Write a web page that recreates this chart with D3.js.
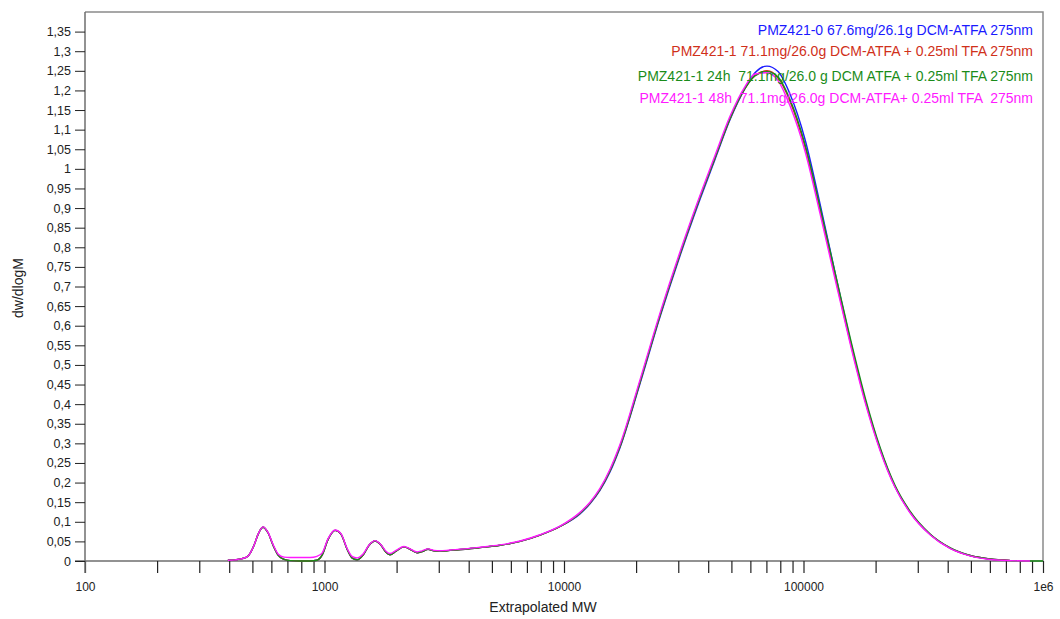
<!DOCTYPE html>
<html><head><meta charset="utf-8">
<script src="https://cdn.jsdelivr.net/npm/d3@7"></script>
<style>body{margin:0;background:#fff}svg{display:block}text{font-family:"Liberation Sans",Arial,sans-serif;white-space:pre}</style>
</head><body><svg id="c" width="1060" height="619"></svg>
<script>
// ---- data ----
const MW = [395,423,453,480,508,528,553,581,610,640,678,718,790,870,930,977,1035,1107,1173,1243,1303,1367,1449,1535,1626,1723,1806,1877,1989,2148,2275,2434,2555,2706,2866,3036,3342,3861,4460,5406,6554,7943,9623,11660,12840,14130,15560,17130,20760,25160,30490,36950,42700,49320,56980,62690,70400,78300,87900,101500,117300,135500,156500,180700,208700,241000,278500,337500,409000,495800,601000,728000,882000,1000000];
const blueVals = [0.002,0.003,0.006,0.013,0.040,0.068,0.086,0.072,0.040,0.015,0.004,0.001,0.000,0.000,0.002,0.015,0.055,0.078,0.068,0.030,0.008,0.003,0.015,0.040,0.051,0.040,0.022,0.016,0.025,0.036,0.030,0.021,0.024,0.030,0.026,0.025,0.027,0.030,0.034,0.040,0.050,0.066,0.088,0.120,0.146,0.180,0.227,0.289,0.452,0.622,0.778,0.922,1.024,1.125,1.205,1.245,1.262,1.248,1.190,1.075,0.910,0.735,0.565,0.412,0.287,0.190,0.125,0.068,0.033,0.014,0.005,0.0015,null,null];
const redVals = [0.002,0.003,0.006,0.013,0.040,0.068,0.086,0.072,0.040,0.015,0.004,0.001,0.000,0.000,0.002,0.015,0.055,0.078,0.068,0.030,0.008,0.003,0.015,0.040,0.051,0.040,0.022,0.016,0.025,0.036,0.030,0.021,0.024,0.030,0.026,0.025,0.027,0.030,0.034,0.040,0.050,0.066,0.088,0.122,0.148,0.182,0.230,0.292,0.456,0.626,0.782,0.927,1.028,1.128,1.205,1.238,1.250,1.232,1.172,1.055,0.895,0.725,0.560,0.410,0.285,0.190,0.125,0.068,0.033,0.014,0.005,0.0015,null,null];
const greenVals = [0.002,0.003,0.006,0.013,0.040,0.068,0.086,0.072,0.040,0.015,0.004,0.001,0.000,0.000,0.002,0.015,0.055,0.078,0.068,0.030,0.008,0.003,0.015,0.040,0.051,0.040,0.022,0.016,0.025,0.036,0.030,0.021,0.024,0.030,0.026,0.025,0.027,0.030,0.034,0.040,0.050,0.066,0.088,0.122,0.148,0.182,0.230,0.292,0.456,0.626,0.782,0.927,1.028,1.128,1.205,1.237,1.248,1.234,1.176,1.062,0.902,0.735,0.570,0.418,0.290,0.193,0.127,0.069,0.034,0.014,0.005,0.001,0.000,0.000];
const magentaVals = [0.002,0.003,0.006,0.013,0.040,0.068,0.087,0.073,0.042,0.018,0.010,0.009,0.009,0.009,0.012,0.020,0.057,0.079,0.069,0.032,0.012,0.008,0.018,0.041,0.052,0.041,0.025,0.019,0.027,0.037,0.031,0.023,0.026,0.031,0.027,0.026,0.028,0.031,0.035,0.041,0.051,0.067,0.089,0.124,0.150,0.185,0.234,0.297,0.462,0.632,0.788,0.932,1.034,1.134,1.210,1.242,1.245,1.225,1.160,1.045,0.885,0.718,0.555,0.405,0.282,0.188,0.123,0.067,0.032,0.013,0.004,0.001,0.000,null];
const seriesNames = ["PMZ421-0 67.6mg/26.1g DCM-ATFA 275nm","PMZ421-1 71.1mg/26.0g DCM-ATFA + 0.25ml TFA 275nm","PMZ421-1 24h  71.1mg/26.0 g DCM ATFA + 0.25ml TFA 275nm","PMZ421-1 48h  71.1mg/26.0g DCM-ATFA+ 0.25ml TFA  275nm"];
const seriesColors = ["#1a1aff","#d0301a","#1a8c1a","#ff1aff"];
const yTicks = [0,0.05,0.1,0.15,0.2,0.25,0.3,0.35,0.4,0.45,0.5,0.55,0.6,0.65,0.7,0.75,0.8,0.85,0.9,0.95,1,1.05,1.1,1.15,1.2,1.25,1.3,1.35];
const xMajor = [100,1000,10000,100000,1000000];
const xMajorLabels = ["100","1000","10000","100000","1e6"];
const xMinorMult = [2,3,4,5,6,7,8,9];
const xTitle = "Extrapolated MW", yTitle = "dw/dlogM";

// ---- chart ----
const svg = d3.select("#c");
const L=85,R=1043,T=12,B=561;
const x = d3.scaleLog().domain([100,1e6]).range([L,R]);
const y = d3.scaleLinear().domain([0,1.4]).range([B,T]);
const axisCol="#6e6e6e";
const FF="Liberation Sans, Arial, sans-serif";

svg.append("path").attr("d",`M${L},${T}H${R}V${B}`).attr("fill","none").attr("stroke","#8a8a8a").attr("stroke-width",1.5);

const xTickVals=[];
xMajor.slice(0,4).forEach(d=>xMinorMult.forEach(m=>xTickVals.push(d*m)));
const allX = xMajor.concat(xTickVals);
const xa = d3.axisBottom(x).tickValues(allX).tickSize(12).tickPadding(9)
  .tickFormat(d=>{const i=xMajor.indexOf(d);return i>=0?xMajorLabels[i]:"";});
const gx = svg.append("g").attr("transform",`translate(0,${B})`).call(xa);
gx.select(".domain").attr("d",`M${L-10},0H${R}`).attr("stroke",axisCol).attr("stroke-width",1.5);
gx.selectAll(".tick line").attr("stroke","#222").attr("stroke-width",1.2);
gx.selectAll("text").attr("font-size",12).attr("fill","#222").attr("font-family",FF);

const ya = d3.axisLeft(y).tickValues(yTicks).tickSize(10).tickPadding(4)
  .tickFormat(d=>String(+d.toFixed(2)).replace(".",","));
const gy = svg.append("g").attr("transform",`translate(${L},0)`).call(ya);
gy.select(".domain").attr("d",`M0,${T}V${B+12}`).attr("stroke",axisCol).attr("stroke-width",1.5);
gy.selectAll(".tick line").attr("stroke","#222").attr("stroke-width",1);
gy.selectAll("text").attr("font-size",12.5).attr("fill","#222").attr("font-family",FF);

svg.append("text").attr("x",543).attr("y",612).attr("text-anchor","middle").attr("font-size",14).attr("fill","#222").text(xTitle);
svg.append("text").attr("transform","translate(23,288) rotate(-90)").attr("text-anchor","middle").attr("font-size",14).attr("fill","#222").text(yTitle);

const line = d3.line().defined(d=>d[1]!=null).x(d=>x(d[0])).y(d=>y(d[1])).curve(d3.curveMonotoneX);
[blueVals,redVals,greenVals,magentaVals].forEach((vals,i)=>{
  svg.append("path").datum(MW.map((m,j)=>[m,vals[j]])).attr("d",line)
    .attr("fill","none").attr("stroke",seriesColors[i]).attr("stroke-width",1.4);
});

const legY=[35,56,81,103];
seriesNames.forEach((n,i)=>{
  svg.append("text").attr("x",1033).attr("y",legY[i]).attr("text-anchor","end")
    .attr("font-size",14).attr("fill",seriesColors[i]).attr("xml:space","preserve").text(n);
});
</script></body></html>
